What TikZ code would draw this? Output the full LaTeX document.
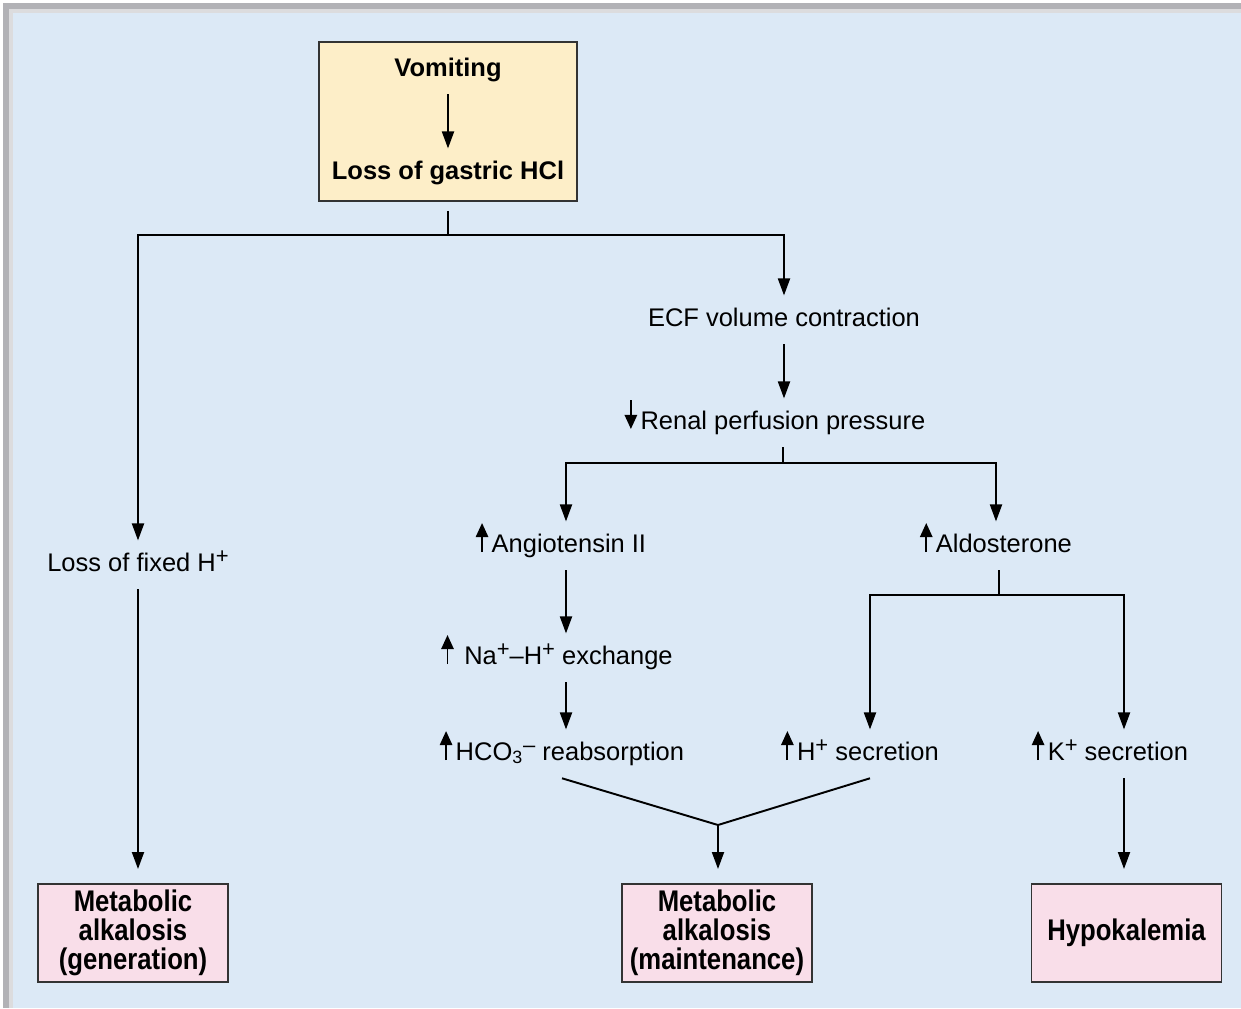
\documentclass[tikz,border=0pt]{standalone}
\usepackage{fontspec}
\setmainfont{Liberation Sans}
\newfontfamily\narrowfont[FakeStretch=0.86]{Liberation Sans}
\usetikzlibrary{arrows.meta,positioning,calc}
\definecolor{panelblue}{RGB}{220,233,246}
\definecolor{boxyellow}{RGB}{253,238,200}
\definecolor{boxpink}{RGB}{249,222,233}
\definecolor{framegray}{RGB}{178,178,182}
\newcommand{\incr}{\tikz[baseline=0pt]\draw[line width=1.1pt,-{Triangle[length=8pt,width=7pt]}] (0,0) -- (0,16.5pt);\hspace{2pt}}
\newcommand{\decr}{\tikz[baseline=0pt]\draw[line width=1.1pt,-{Triangle[length=8pt,width=7pt]}] (0,16.5pt) -- (0,0);\hspace{2pt}}
\newcommand{\supc}[1]{\raisebox{4pt}{\fontsize{12.5}{12.5}\selectfont #1}}

\begin{document}
\begin{tikzpicture}[
  x=0.2mm,y=-0.2mm,
  every node/.style={font=\fontsize{14.5}{17}\selectfont},
  lbl/.style={inner sep=0pt,outer xsep=0pt,outer ysep=2.6mm,text height=10pt,text depth=3pt,anchor=base},
  topbox/.style={draw=black!80,line width=1pt,fill=boxyellow,minimum width=51.6mm,minimum height=31.8mm},
  endbox/.style={draw=black!80,line width=1.1pt,fill=boxpink,minimum width=38mm,minimum height=19.6mm,outer ysep=3mm,align=center,font=\narrowfont\bfseries\fontsize{17}{16.4}\selectfont},
  arr/.style={line width=1.1pt,-{Triangle[length=3.4mm,width=2.4mm]}},
  line/.style={line width=1.1pt}
]
\useasboundingbox (0,0) rectangle (1241,1008);
% frame and panel
\fill[white] (0,0) rectangle (1241,1008);
\fill[framegray] (3,3) rectangle (1241,1008);
\fill[framegray!45] (9,9) rectangle (1241,1008);
\fill[panelblue] (13,13) rectangle (1241,1008);

% top box
\node[topbox] (top) at (448,121.5) {};
\node[lbl] (vom) at (448,76) {\bfseries Vomiting};
\node[lbl] (hcl) at (448,179) {\bfseries Loss of gastric HCl};
\draw[arr] (vom) -- (hcl);

% steps
\node[lbl] (ecf) at (784,326) {ECF volume contraction};
\node[lbl] (renal) at (775,429) {\decr Renal perfusion pressure};
\node[lbl] (angio) at (561,552) {\incr Angiotensin II};
\node[lbl] (aldo) at (996,552) {\incr Aldosterone};
\node[lbl] (lossH) at (138,571) {Loss of fixed H\supc{+}};
\node[lbl] (nah) at (557,664) {\incr\ Na\supc{+}–H\supc{+} exchange};
\node[lbl] (hco) at (562,760) {\incr HCO\textsubscript{3}\supc{–}\ reabsorption};
\node[lbl] (hsec) at (860,760) {\incr H\supc{+} secretion};
\node[lbl] (ksec) at (1110,760) {\incr K\supc{+} secretion};

% outcomes
\node[endbox] (gen) at (133,933) {Metabolic\\alkalosis\\(generation)};
\node[endbox] (maint) at (717,933) {Metabolic\\alkalosis\\(maintenance)};
\node[endbox] (hypo) at (1126.5,933) {Hypokalemia};

% columns and forks
\coordinate (cA) at (566,0);
\coordinate (cH) at (870,0);
\coordinate (cK) at (1124,0);
\coordinate (fork1) at (448,235);
\coordinate (fork2) at (783,463);
\coordinate (fork3) at (999,595);
\coordinate (merge) at (718,825);

% connectors
\draw[line,shorten <=1.8mm] (top.south) -- (fork1);
\draw[arr] (fork1) -| (lossH.north);
\draw[arr] (fork1) -| (ecf.north);
\draw[arr] (ecf.south) -- (ecf.south |- renal.north);
\draw[line] (renal.south -| fork2) -- (fork2);
\draw[arr] (fork2) -| (angio.north -| cA);
\draw[arr] (fork2) -| (aldo.north);
\draw[arr] (angio.south -| cA) -- (nah.north -| cA);
\draw[arr] (nah.south -| cA) -- (hco.north -| cA);
\draw[line] (aldo.south -| fork3) -- (fork3);
\draw[arr] (fork3) -| (hsec.north -| cH);
\draw[arr] (fork3) -| (ksec.north -| cK);
\draw[line] (hco.south) -- (merge) -- (hsec.south -| cH);
\draw[arr] (merge) -- (maint.north -| merge);
\draw[arr] (lossH.south) -- (gen.north -| lossH.south);
\draw[arr] (ksec.south -| cK) -- (hypo.north -| cK);
\end{tikzpicture}
\end{document}
